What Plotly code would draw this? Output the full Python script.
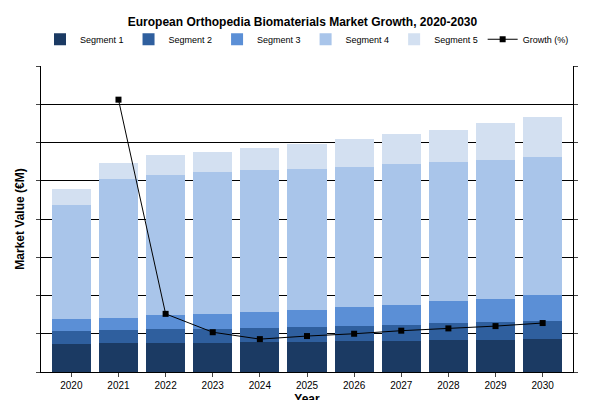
import plotly.graph_objects as go

years = [str(y) for y in range(2020, 2031)]
seg1 = [73, 76, 76, 76, 78, 78, 81, 81, 84, 84, 86]
seg2 = [34, 34, 36, 36, 37, 39, 39, 42, 44, 47, 47]
seg3 = [31, 31, 37, 39, 42, 45, 50, 52, 57, 60, 68]
seg4 = [298, 363, 365, 371, 370, 368, 365, 368, 363, 363, 360]
seg5 = [42, 42, 53, 52, 58, 65, 74, 78, 86, 96, 105]
growth = [None, 35.6, 7.6, 5.2, 4.3, 4.7, 5.0, 5.4, 5.7, 6.0, 6.4]

names = ["Segment 1", "Segment 2", "Segment 3", "Segment 4", "Segment 5"]
colors = ["#1b3a63", "#2f5f9e", "#5b8fd6", "#a9c5ea", "#d3e0f1"]
fig = go.Figure()
for n, v, c in zip(names, [seg1, seg2, seg3, seg4, seg5], colors):
    fig.add_bar(x=years, y=v, name=n, marker_color=c, marker_line_width=0)
fig.add_scatter(x=years, y=growth, name="Growth (%)", yaxis="y2", mode="lines+markers",
                line=dict(color="black", width=1), marker=dict(symbol="square", size=6, color="black"))
fig.update_layout(
    width=589, height=400, barmode="stack", bargap=0.17,
    plot_bgcolor="white", paper_bgcolor="white",
    font=dict(family="Liberation Sans, Arial", size=10, color="black"),
    title=dict(text="<b>European Orthopedia Biomaterials Market Growth, 2020-2030</b>", x=0.5, y=0.975, font=dict(size=12)),
    legend=dict(orientation="h", x=0.5, xanchor="center", y=1.04, yanchor="bottom", font=dict(size=9),
                traceorder="normal", itemwidth=30, entrywidth=0, tracegroupgap=0),
    margin=dict(l=33, r=24, t=58, b=36, autoexpand=False),
    xaxis=dict(showline=True, linecolor="black", ticks="outside", ticklen=4, automargin=False,
               title=dict(text="<b>Year</b>", standoff=4), tickfont=dict(size=10)),
    yaxis=dict(range=[0, 800], dtick=100, showgrid=True, gridcolor="black", gridwidth=1, automargin=False,
               showline=True, linecolor="black", ticks="outside", ticklen=4, showticklabels=False,
               title=dict(text="<b>Market Value (€M)</b>", standoff=8)),
    yaxis2=dict(range=[0, 40], dtick=5, overlaying="y", side="right", showgrid=False, automargin=False,
                showline=True, linecolor="black", ticks="outside", ticklen=4, showticklabels=False,
                title=dict(text="<b>Growth (%)</b>", standoff=8)),
)
fig.write_html("out.html")
